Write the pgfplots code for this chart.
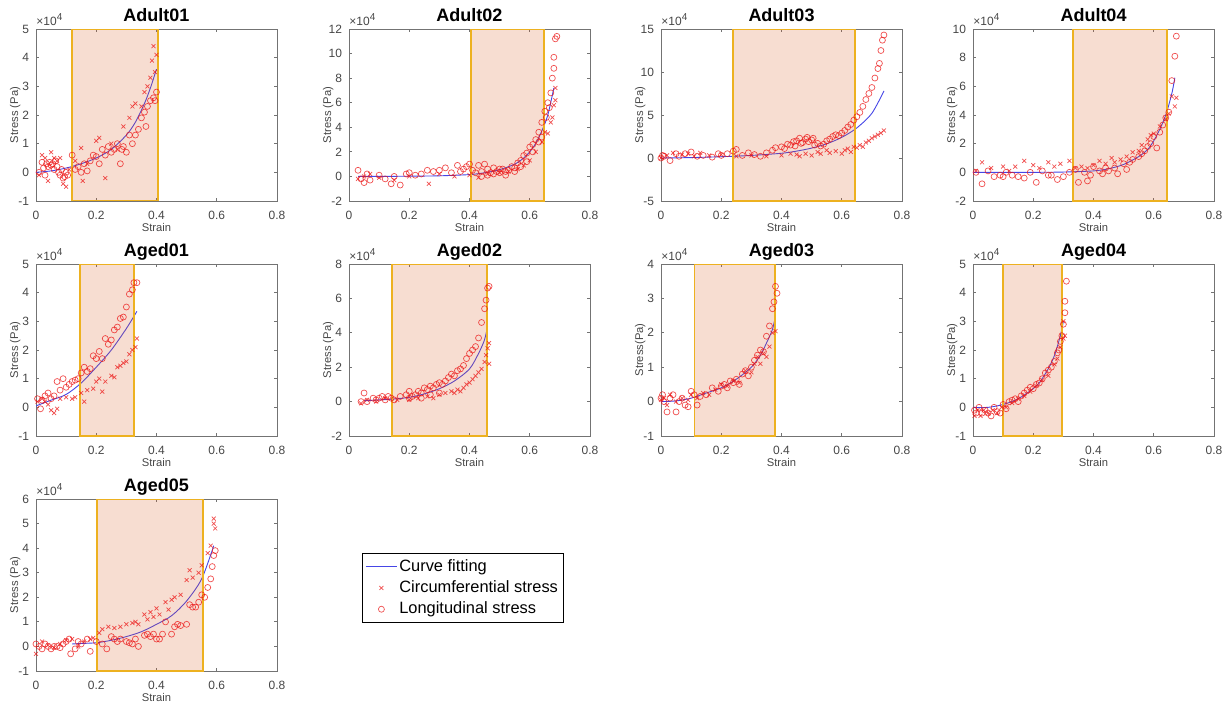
\documentclass[border=0pt]{standalone}
\usepackage{pgfplots}
\pgfplotsset{compat=1.18}
\usepackage{fontspec}
\setmainfont{Liberation Sans}

\definecolor{axgray}{RGB}{115,115,115}
\definecolor{labgray}{RGB}{70,70,70}
\definecolor{fitblue}{RGB}{70,70,230}
\definecolor{shadefill}{RGB}{217,83,25}
\definecolor{gold}{RGB}{237,177,32}
\definecolor{mkred}{RGB}{235,20,20}

\tikzset{exlab/.style={anchor=south west, inner sep=0pt, yshift=1.5pt,
    font=\fontsize{6}{7}\selectfont, text=labgray}}

\pgfplotsset{
  panel/.style={
    scale only axis, width=120.5pt, height=86pt, anchor=north west,
    xmin=0, xmax=0.8, xtick={0,0.2,0.4,0.6,0.8},
    scaled ticks=false,
    tick align=inside, major tick length=1.3pt,
    axis line style={axgray, line width=0.4pt},
    every tick/.style={axgray, line width=0.4pt},
    tick label style={font=\fontsize{6}{7}\selectfont, text=labgray},
    xticklabel style={yshift=-1.5pt},
    /pgf/number format/assume math mode=true,
    every axis title/.style={at={(0.5,1)}, anchor=base, yshift=4pt, inner sep=0pt,
      font=\fontsize{9}{10}\selectfont\bfseries},
    xlabel=Strain, ylabel={Stress (Pa)},
    every axis x label/.style={at={(0.5,0)}, anchor=base, yshift=-15.4pt, inner sep=0pt,
      font=\fontsize{5.6}{6.5}\selectfont, text=labgray},
    every axis y label/.style={at={(-0.074,0.5)}, anchor=base, rotate=90, inner sep=0pt,
      font=\fontsize{5.6}{6.5}\selectfont, text=labgray},
    after end axis/.code={\node[exlab] at (rel axis cs:0,1) {×10\textsuperscript{4}};},
  },
  circ/.style={only marks, mark=o, mark size=1.5pt, mkred,
    mark options={line width=0.35pt, draw opacity=0.75}},
  crs/.style={only marks, mark=x, mark size=1.4pt, mkred,
    mark options={line width=0.35pt, draw opacity=0.75}},
  fitc/.style={no marks, fitblue, line width=0.45pt, smooth},
  band/.style={fill=shadefill, fill opacity=0.2, draw=gold, line width=0.9pt, forget plot},
}

\begin{document}
\begin{tikzpicture}
\useasboundingbox (0,0) rectangle (615pt,-351pt);

% ---------------- row 1 ----------------
\begin{axis}[panel, at={(18pt,-14.5pt)}, title={Adult01},
  ymin=-1, ymax=5, ytick={-1,0,...,5}]
\addplot[crs] coordinates {(0.01,-0.1)(0.02,0.6)(0.03,0.5)(0.04,-0.3)(0.05,0.7)(0.06,0.5)(0.07,0.4)(0.08,0.5)(0.09,-0.4)(0.1,-0.5)(0.11,0.1)(0.13,0.4)(0.15,0.85)(0.155,-0.3)(0.17,0.3)(0.2,1.1)(0.21,1.2)(0.23,-0.2)(0.25,1.0)(0.27,0.8)(0.29,1.6)(0.31,1.9)(0.32,2.3)(0.33,2.4)(0.35,2.3)(0.36,2.8)(0.37,3.0)(0.38,3.3)(0.385,3.9)(0.39,4.4)(0.4,4.1)(0.395,3.5)};
\addplot[circ] coordinates {(0.01,0.0)(0.02,0.35)(0.025,0.15)(0.03,-0.1)(0.035,0.3)(0.04,0.2)(0.045,0.35)(0.05,0.25)(0.055,0.3)(0.06,0.1)(0.065,0.4)(0.07,0.2)(0.075,0.0)(0.08,-0.1)(0.085,0.1)(0.09,-0.2)(0.095,-0.15)(0.1,0.0)(0.105,-0.1)(0.12,0.6)(0.13,0.1)(0.14,0.2)(0.15,0.0)(0.16,0.3)(0.17,0.05)(0.18,0.4)(0.19,0.6)(0.2,0.55)(0.21,0.3)(0.22,0.8)(0.23,0.6)(0.24,0.9)(0.25,0.7)(0.26,0.8)(0.27,1.0)(0.28,0.3)(0.285,0.8)(0.29,0.9)(0.3,0.7)(0.31,1.3)(0.32,1.0)(0.33,1.3)(0.34,1.5)(0.35,1.9)(0.36,2.1)(0.365,1.6)(0.37,2.3)(0.38,2.5)(0.39,2.6)(0.4,2.8)(0.395,2.5)};
\addplot[fitc] coordinates {(0,0)(0.05,0.05)(0.1,0.15)(0.15,0.3)(0.2,0.5)(0.25,0.8)(0.3,1.3)(0.33,1.75)(0.36,2.4)(0.38,2.95)(0.4,3.6)};
\addplot[band] coordinates {(0.119,-1)(0.404,-1)(0.404,5)(0.119,5)} -- cycle;
\end{axis}

\begin{axis}[panel, at={(174.5pt,-14.5pt)}, title={Adult02},
  ymin=-2, ymax=12, ytick={-2,0,...,12}]
\addplot[crs] coordinates {(0.03,-0.2)(0.05,0.0)(0.07,0.2)(0.1,-0.1)(0.15,-0.3)(0.2,0.0)(0.265,-0.6)(0.3,0.2)(0.35,0.0)(0.4,0.1)(0.43,-0.1)(0.46,0.2)(0.5,0.3)(0.53,0.4)(0.56,0.6)(0.58,0.9)(0.6,1.3)(0.62,2.0)(0.64,2.8)(0.65,3.6)(0.66,3.5)(0.67,4.4)(0.675,4.8)(0.68,5.8)(0.685,6.2)(0.685,7.2)};
\addplot[circ] coordinates {(0.03,0.5)(0.04,-0.2)(0.05,-0.5)(0.06,0.2)(0.07,-0.3)(0.1,0.1)(0.12,-0.2)(0.14,-0.6)(0.15,0.0)(0.17,-0.7)(0.19,0.2)(0.2,0.3)(0.22,0.1)(0.24,0.2)(0.26,0.5)(0.28,0.4)(0.3,0.5)(0.32,0.7)(0.34,0.3)(0.36,0.9)(0.37,0.4)(0.38,0.6)(0.39,0.8)(0.4,1.0)(0.41,0.5)(0.42,0.3)(0.43,0.9)(0.44,0.4)(0.45,1.0)(0.46,0.6)(0.47,0.3)(0.48,0.7)(0.49,0.4)(0.5,0.3)(0.51,0.6)(0.52,0.4)(0.53,0.5)(0.54,0.8)(0.55,0.7)(0.56,1.1)(0.57,1.3)(0.58,1.7)(0.59,1.9)(0.6,2.4)(0.61,2.6)(0.62,3.0)(0.63,3.6)(0.64,4.4)(0.65,5.3)(0.66,6.0)(0.67,6.8)(0.675,8.0)(0.68,8.8)(0.68,9.7)(0.685,11.2)(0.69,11.4)(0.44,0.0)(0.46,0.1)(0.48,0.2)(0.5,0.6)(0.52,0.1)(0.55,0.4)(0.57,0.8)(0.59,1.2)(0.61,2.0)(0.63,2.8)(0.64,3.2)(0.655,4.8)(0.665,5.6)};
\addplot[fitc] coordinates {(0.03,0)(0.1,0)(0.2,0.02)(0.3,0.05)(0.4,0.15)(0.45,0.3)(0.5,0.55)(0.55,1.0)(0.58,1.5)(0.6,2.0)(0.62,2.7)(0.64,3.7)(0.66,5.0)(0.68,7.2)};
\addplot[band] coordinates {(0.404,-2)(0.647,-2)(0.647,12)(0.404,12)} -- cycle;
\end{axis}

\begin{axis}[panel, at={(330.5pt,-14.5pt)}, title={Adult03},
  ymin=-5, ymax=15, ytick={-5,0,...,15}]
\addplot[crs] coordinates {(0.0,0.0)(0.02,0.3)(0.04,0.6)(0.07,0.4)(0.09,0.5)(0.11,0.2)(0.13,0.6)(0.16,0.3)(0.2,0.4)(0.25,0.2)(0.3,0.3)(0.35,0.2)(0.4,0.3)(0.43,0.5)(0.45,0.4)(0.46,0.2)(0.48,0.5)(0.5,0.3)(0.52,0.7)(0.53,0.5)(0.55,0.9)(0.56,0.6)(0.58,0.8)(0.6,0.5)(0.61,0.9)(0.62,1.1)(0.63,0.7)(0.64,1.3)(0.65,1.2)(0.66,1.5)(0.67,1.3)(0.68,1.8)(0.69,2.0)(0.7,2.3)(0.71,2.5)(0.72,2.7)(0.73,2.9)(0.74,3.2)};
\addplot[circ] coordinates {(0.0,0.0)(0.005,0.3)(0.01,0.2)(0.03,-0.3)(0.05,0.5)(0.06,0.2)(0.08,0.5)(0.1,0.7)(0.12,0.2)(0.14,0.3)(0.17,0.1)(0.19,0.5)(0.2,0.3)(0.22,0.5)(0.24,0.8)(0.25,1.0)(0.27,0.3)(0.29,0.6)(0.31,0.4)(0.33,0.2)(0.35,0.6)(0.37,0.9)(0.38,1.2)(0.4,1.3)(0.41,1.1)(0.42,1.6)(0.43,1.5)(0.44,1.9)(0.45,2.0)(0.46,2.3)(0.47,1.8)(0.48,2.2)(0.49,1.9)(0.5,2.1)(0.51,1.5)(0.52,1.7)(0.53,1.4)(0.54,1.6)(0.55,2.0)(0.56,2.2)(0.57,2.5)(0.58,2.7)(0.59,2.6)(0.6,2.9)(0.61,3.2)(0.62,3.6)(0.63,3.9)(0.64,4.4)(0.65,4.8)(0.66,5.3)(0.67,6.0)(0.68,6.8)(0.69,7.5)(0.7,8.2)(0.71,9.3)(0.72,10.4)(0.725,11.0)(0.73,12.5)(0.735,13.7)(0.74,14.3)(0.445,1.4)(0.465,1.7)(0.485,2.4)(0.505,2.3)};
\addplot[fitc] coordinates {(0,0)(0.1,0.05)(0.2,0.15)(0.3,0.3)(0.4,0.55)(0.45,0.8)(0.5,1.15)(0.55,1.65)(0.6,2.4)(0.65,3.5)(0.7,5.2)(0.74,7.8)};
\addplot[band] coordinates {(0.240,-5)(0.645,-5)(0.645,15)(0.240,15)} -- cycle;
\end{axis}

\begin{axis}[panel, at={(486.5pt,-14.5pt)}, title={Adult04},
  ymin=-2, ymax=10, ytick={-2,0,...,10}]
\addplot[crs] coordinates {(0.01,0.1)(0.03,0.7)(0.06,0.3)(0.1,0.4)(0.12,0.1)(0.14,0.4)(0.17,0.8)(0.2,0.5)(0.22,0.3)(0.25,0.7)(0.27,0.4)(0.29,0.6)(0.32,0.8)(0.34,0.3)(0.36,0.4)(0.38,0.3)(0.4,0.5)(0.42,0.8)(0.44,0.6)(0.46,1.0)(0.47,0.7)(0.49,0.9)(0.51,1.1)(0.53,1.4)(0.55,1.5)(0.56,1.9)(0.58,2.3)(0.59,2.6)(0.6,2.7)(0.62,3.2)(0.64,3.7)(0.65,4.1)(0.66,5.3)(0.67,4.6)(0.675,5.2)};
\addplot[circ] coordinates {(0.01,0.0)(0.03,-0.8)(0.05,0.1)(0.07,-0.3)(0.09,-0.2)(0.1,-0.3)(0.11,0.0)(0.13,-0.2)(0.15,-0.3)(0.17,-0.4)(0.19,0.0)(0.21,-0.7)(0.23,0.1)(0.25,-0.2)(0.26,-0.2)(0.28,-0.5)(0.3,-0.3)(0.32,0.0)(0.34,0.2)(0.35,-0.7)(0.37,0.0)(0.38,-0.6)(0.39,-0.2)(0.4,0.4)(0.42,0.1)(0.43,-0.1)(0.44,0.3)(0.45,0.1)(0.47,0.3)(0.48,-0.1)(0.5,0.6)(0.51,0.2)(0.52,0.7)(0.53,0.9)(0.55,1.1)(0.56,1.3)(0.57,1.5)(0.58,1.8)(0.59,2.0)(0.6,2.5)(0.61,1.7)(0.62,2.8)(0.63,3.3)(0.64,3.8)(0.65,4.2)(0.66,6.4)(0.67,8.1)(0.675,9.5)};
\addplot[fitc] coordinates {(0,0)(0.1,0)(0.2,0)(0.3,0.02)(0.4,0.1)(0.45,0.25)(0.5,0.55)(0.55,1.1)(0.58,1.6)(0.6,2.2)(0.62,3.0)(0.64,4.0)(0.66,5.5)(0.67,6.6)};
\addplot[band] coordinates {(0.332,-2)(0.645,-2)(0.645,10)(0.332,10)} -- cycle;
\end{axis}

% ---------------- row 2 ----------------
\begin{axis}[panel, at={(18pt,-132pt)}, title={Aged01},
  ymin=-1, ymax=5, ytick={-1,0,...,5}]
\addplot[crs] coordinates {(0.005,0.2)(0.02,0.3)(0.03,0.2)(0.04,0.1)(0.05,-0.1)(0.06,-0.2)(0.07,-0.05)(0.08,0.3)(0.1,0.35)(0.12,0.3)(0.13,0.35)(0.15,0.5)(0.16,0.2)(0.17,0.6)(0.19,0.65)(0.2,0.9)(0.21,1.0)(0.22,0.55)(0.23,0.9)(0.25,1.1)(0.26,1.05)(0.27,1.4)(0.28,1.45)(0.29,1.55)(0.3,1.6)(0.31,1.85)(0.32,2.0)(0.33,2.1)(0.335,2.4)};
\addplot[circ] coordinates {(0.005,0.3)(0.015,-0.05)(0.02,0.25)(0.03,0.4)(0.04,0.5)(0.05,0.3)(0.06,0.4)(0.07,0.9)(0.08,0.6)(0.09,1.0)(0.1,0.7)(0.11,0.8)(0.12,0.9)(0.13,0.95)(0.14,1.0)(0.15,1.2)(0.16,1.4)(0.17,1.25)(0.18,1.35)(0.19,1.8)(0.2,1.7)(0.21,1.95)(0.22,1.7)(0.23,2.4)(0.24,2.2)(0.25,2.35)(0.26,2.7)(0.27,2.8)(0.28,3.1)(0.29,3.15)(0.3,3.5)(0.31,3.95)(0.32,4.1)(0.325,4.35)(0.335,4.35)};
\addplot[fitc] coordinates {(0,0.05)(0.05,0.25)(0.1,0.45)(0.15,0.85)(0.2,1.4)(0.25,2.0)(0.3,2.75)(0.335,3.35)};
\addplot[band] coordinates {(0.147,-1)(0.326,-1)(0.326,5)(0.147,5)} -- cycle;
\end{axis}

\begin{axis}[panel, at={(174.5pt,-132pt)}, title={Aged02},
  ymin=-2, ymax=8, ytick={-2,0,...,8}]
\addplot[crs] coordinates {(0.04,-0.1)(0.06,0.1)(0.09,0.0)(0.12,0.2)(0.16,0.1)(0.2,0.1)(0.23,0.2)(0.26,0.3)(0.28,0.2)(0.3,0.4)(0.32,0.5)(0.34,0.6)(0.35,0.5)(0.36,0.7)(0.37,0.6)(0.38,0.8)(0.39,1.0)(0.4,1.1)(0.41,1.3)(0.42,1.5)(0.43,1.7)(0.44,1.9)(0.45,2.3)(0.455,2.7)(0.46,3.1)(0.465,3.4)(0.465,2.2)};
\addplot[circ] coordinates {(0.04,0.0)(0.05,0.5)(0.06,0.0)(0.08,0.2)(0.09,0.1)(0.1,0.2)(0.11,0.3)(0.12,0.1)(0.13,0.3)(0.14,0.2)(0.15,0.1)(0.17,0.3)(0.19,0.4)(0.2,0.6)(0.21,0.3)(0.22,0.4)(0.23,0.6)(0.24,0.5)(0.25,0.8)(0.26,0.7)(0.27,0.9)(0.28,0.8)(0.29,1.0)(0.3,1.1)(0.31,1.0)(0.32,1.2)(0.33,1.4)(0.34,1.6)(0.35,1.5)(0.36,1.8)(0.37,1.9)(0.38,2.1)(0.39,2.5)(0.4,2.8)(0.41,3.0)(0.42,3.2)(0.43,3.7)(0.44,4.6)(0.45,5.4)(0.455,5.9)(0.46,6.6)(0.465,6.7)(0.2,0.2)(0.24,0.2)(0.27,0.4)(0.3,0.5)};
\addplot[fitc] coordinates {(0.05,0.05)(0.1,0.1)(0.15,0.15)(0.2,0.25)(0.25,0.45)(0.3,0.75)(0.35,1.2)(0.4,1.9)(0.43,2.8)(0.45,3.6)(0.46,4.4)};
\addplot[band] coordinates {(0.144,-2)(0.458,-2)(0.458,8)(0.144,8)} -- cycle;
\end{axis}

\begin{axis}[panel, at={(330.5pt,-132pt)}, title={Aged03}, ylabel={Stress(Pa)},
  ymin=-1, ymax=4, ytick={-1,0,...,4}]
\addplot[crs] coordinates {(0.0,0.05)(0.01,0.1)(0.02,-0.1)(0.03,0.2)(0.05,0.0)(0.07,0.1)(0.09,0.05)(0.1,0.2)(0.12,0.1)(0.14,0.25)(0.16,0.2)(0.18,0.35)(0.2,0.5)(0.22,0.45)(0.24,0.6)(0.26,0.55)(0.28,0.9)(0.3,0.85)(0.31,1.1)(0.32,1.3)(0.33,1.1)(0.34,1.4)(0.35,1.3)(0.36,1.6)(0.37,2.0)(0.38,2.05)};
\addplot[circ] coordinates {(0.0,0.1)(0.005,0.2)(0.01,0.0)(0.02,-0.3)(0.03,0.1)(0.04,0.2)(0.05,-0.3)(0.06,0.0)(0.07,0.1)(0.08,-0.1)(0.09,-0.15)(0.1,0.3)(0.11,0.2)(0.12,-0.1)(0.13,0.15)(0.15,0.2)(0.17,0.4)(0.19,0.3)(0.2,0.45)(0.21,0.5)(0.22,0.4)(0.23,0.6)(0.24,0.55)(0.25,0.65)(0.26,0.5)(0.27,0.8)(0.28,0.9)(0.29,0.75)(0.3,1.0)(0.31,1.2)(0.32,1.35)(0.33,1.5)(0.34,1.45)(0.35,1.9)(0.36,2.2)(0.37,2.7)(0.375,2.9)(0.38,3.35)(0.385,3.15)};
\addplot[fitc] coordinates {(0,0)(0.05,0.02)(0.1,0.1)(0.15,0.25)(0.2,0.4)(0.25,0.65)(0.3,1.0)(0.33,1.35)(0.35,1.7)(0.37,2.1)(0.38,2.5)};
\addplot[band] coordinates {(0.111,-1)(0.379,-1)(0.379,4)(0.111,4)} -- cycle;
\end{axis}

\begin{axis}[panel, at={(486.5pt,-132pt)}, title={Aged04}, ylabel={Stress(Pa)},
  ymin=-1, ymax=5, ytick={-1,0,...,5}]
\addplot[crs] coordinates {(0.005,-0.3)(0.015,-0.1)(0.025,-0.3)(0.035,-0.1)(0.05,-0.2)(0.065,-0.1)(0.08,-0.2)(0.095,0.0)(0.11,0.0)(0.13,0.15)(0.15,0.3)(0.17,0.4)(0.19,0.55)(0.21,0.75)(0.23,0.95)(0.25,1.1)(0.27,1.5)(0.28,1.7)(0.29,2.1)(0.3,2.4)(0.305,2.5)(0.3,3.0)};
\addplot[circ] coordinates {(0.005,-0.1)(0.01,-0.2)(0.02,0.0)(0.03,-0.2)(0.04,-0.1)(0.05,-0.2)(0.06,-0.3)(0.07,0.0)(0.08,-0.15)(0.09,-0.2)(0.1,0.1)(0.11,-0.05)(0.12,0.2)(0.13,0.25)(0.14,0.3)(0.15,0.2)(0.16,0.4)(0.17,0.5)(0.18,0.6)(0.19,0.7)(0.2,0.65)(0.21,0.8)(0.22,0.85)(0.23,1.0)(0.24,1.2)(0.25,1.3)(0.26,1.4)(0.27,1.6)(0.28,1.9)(0.285,2.0)(0.29,2.3)(0.295,2.5)(0.3,2.9)(0.305,3.3)(0.305,3.7)(0.31,4.4)};
\addplot[fitc] coordinates {(0,0)(0.05,0.0)(0.1,0.1)(0.15,0.3)(0.2,0.65)(0.22,0.85)(0.25,1.35)(0.27,1.8)(0.29,2.5)(0.3,3.0)};
\addplot[band] coordinates {(0.100,-1)(0.2965,-1)(0.2965,5)(0.100,5)} -- cycle;
\end{axis}

% ---------------- row 3 ----------------
\begin{axis}[panel, at={(18pt,-249.5pt)}, title={Aged05},
  ymin=-1, ymax=6, ytick={-1,0,...,6},
  legend style={at={(1.353,0.686)}, anchor=north west, draw=black, fill=white,
    font=\fontsize{8.2}{9.2}\selectfont, inner xsep=1.5pt, inner ysep=1.3pt,
    nodes={inner xsep=1pt, inner ysep=1.6pt}, cells={anchor=west}, row sep=0pt,
    /tikz/every even column/.append style={column sep=2.5pt}},
  legend image code/.code={\draw[mark repeat=2,mark phase=2,#1]
    plot coordinates {(0pt,0pt) (7.75pt,0pt) (15.5pt,0pt)};}]
\addlegendimage{fitc}\addlegendentry{Curve fitting}
\addlegendimage{crs}\addlegendentry{Circumferential stress}
\addlegendimage{circ}\addlegendentry{Longitudinal stress}
\addplot[crs, forget plot] coordinates {(0.0,-0.3)(0.02,0.2)(0.04,0.05)(0.06,-0.05)(0.08,0.1)(0.1,0.25)(0.12,0.3)(0.14,0.0)(0.16,0.2)(0.18,0.3)(0.19,0.35)(0.21,0.55)(0.22,0.7)(0.24,0.8)(0.26,0.75)(0.28,0.8)(0.3,0.9)(0.32,0.95)(0.33,1.0)(0.34,0.9)(0.36,1.3)(0.37,1.1)(0.38,1.4)(0.39,1.2)(0.4,1.55)(0.41,1.3)(0.43,1.8)(0.44,1.5)(0.45,1.9)(0.46,2.0)(0.48,2.1)(0.5,2.7)(0.51,3.1)(0.52,2.8)(0.54,3.0)(0.55,3.3)(0.57,3.8)(0.58,4.1)(0.59,5.0)(0.59,5.2)(0.595,4.8)};
\addplot[circ, forget plot] coordinates {(0.0,0.1)(0.01,0.0)(0.02,-0.1)(0.03,0.1)(0.04,0.0)(0.05,-0.1)(0.06,0.0)(0.07,0.0)(0.08,-0.05)(0.09,0.1)(0.1,0.2)(0.11,0.3)(0.115,-0.3)(0.13,-0.1)(0.14,0.2)(0.15,0.1)(0.17,0.3)(0.18,-0.2)(0.2,0.2)(0.22,0.1)(0.235,-0.1)(0.25,0.4)(0.26,0.3)(0.27,0.2)(0.28,0.3)(0.3,0.2)(0.31,0.15)(0.32,0.1)(0.33,0.3)(0.34,0.0)(0.36,0.45)(0.37,0.5)(0.38,0.4)(0.39,0.5)(0.4,0.3)(0.41,0.3)(0.42,0.5)(0.43,1.0)(0.45,0.5)(0.46,0.8)(0.47,0.9)(0.48,0.85)(0.5,0.9)(0.51,1.7)(0.52,1.6)(0.53,1.6)(0.54,1.8)(0.55,2.1)(0.56,2.0)(0.57,2.4)(0.58,2.75)(0.585,3.25)(0.59,3.7)(0.595,3.9)};
\addplot[fitc, forget plot] coordinates {(0.12,0.1)(0.15,0.12)(0.2,0.15)(0.25,0.25)(0.3,0.4)(0.35,0.6)(0.4,0.9)(0.45,1.25)(0.5,1.85)(0.55,2.75)(0.59,4.1)};
\addplot[band] coordinates {(0.2025,-1)(0.555,-1)(0.555,6)(0.2025,6)} -- cycle;
\end{axis}
\end{tikzpicture}
\end{document}
